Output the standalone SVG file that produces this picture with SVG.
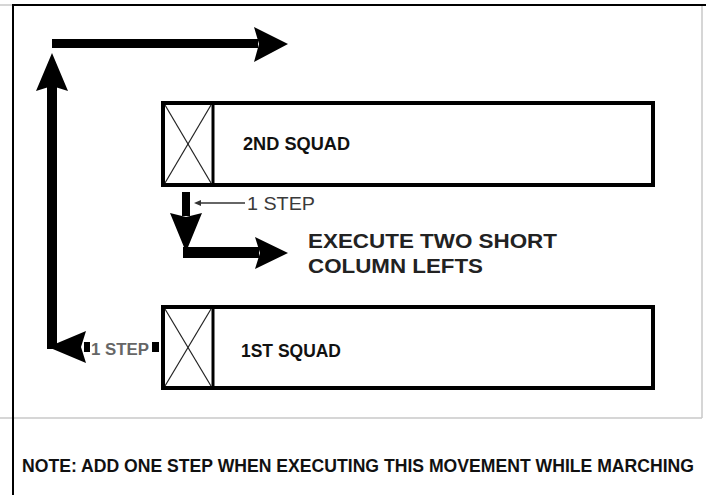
<svg xmlns="http://www.w3.org/2000/svg" width="706" height="495" viewBox="0 0 706 495">
<style>
.box{fill:#fff;stroke:#000;stroke-width:4}
.cell{fill:none;stroke:#000;stroke-width:3}
.x{stroke:#222;stroke-width:1.2}
.lbl{font-family:"Liberation Sans",Arial,sans-serif;font-weight:bold;font-size:19px;fill:#111}
.note{font-family:"Liberation Sans",Arial,sans-serif;font-weight:bold;font-size:17.5px;fill:#111}
.big{font-family:"Liberation Sans",Arial,sans-serif;font-weight:bold;font-size:21px;fill:#222}
.step{font-family:"Liberation Sans",Arial,sans-serif;font-size:18px;fill:#3a3a3a}
.step2{font-family:"Liberation Sans",Arial,sans-serif;font-weight:bold;font-size:16px;fill:#666}
.grey{stroke:#c8c8c8;stroke-width:1.5;fill:none}
</style>
<rect width="706" height="495" fill="#fff"/>
<g id="frame">
<line class="grey" x1="0" y1="5" x2="13" y2="5"/>
<line class="grey" x1="702" y1="6" x2="702" y2="418"/>
<line class="grey" x1="0" y1="418" x2="702" y2="418"/>
<line x1="13" y1="4" x2="13" y2="495" stroke="#000" stroke-width="2"/>
<line x1="13" y1="5" x2="706" y2="5" stroke="#000" stroke-width="2"/>
</g>
<g id="squad2">
<rect class="box" x="163" y="103" width="490" height="82"/>
<line class="cell" x1="213" y1="103" x2="213" y2="185"/>
<line class="x" x1="165" y1="105" x2="211" y2="183"/>
<line class="x" x1="211" y1="105" x2="165" y2="183"/>
<text class="lbl" x="243" y="150" textLength="107" lengthAdjust="spacingAndGlyphs">2ND SQUAD</text>
</g>
<g id="squad1">
<rect class="box" x="163" y="307" width="490" height="81"/>
<line class="cell" x1="213" y1="307" x2="213" y2="388"/>
<line class="x" x1="165" y1="309" x2="211" y2="386"/>
<line class="x" x1="211" y1="309" x2="165" y2="386"/>
<text class="lbl" x="241" y="357" textLength="100" lengthAdjust="spacingAndGlyphs">1ST SQUAD</text>
</g>
<g id="connectors">
<rect x="47" y="86" width="10" height="262" fill="#000"/>
<polygon points="52,53 68,91 52,86 36,91" fill="#000"/>
<rect x="52" y="39" width="206" height="9" fill="#000"/>
<polygon points="288,44 254,62 259,44 254,27" fill="#000"/>
<polygon points="48,347 86,331 81,347 86,363" fill="#000"/>
<rect x="47" y="339" width="10" height="10" fill="#000"/>
<rect x="84" y="342" width="6" height="10" fill="#000"/>
<rect x="152" y="342" width="7" height="10" fill="#000"/>
<rect x="182" y="192" width="8" height="24" fill="#000"/>
<polygon points="186,252 170,213 186,217 202,213" fill="#000"/>
<rect x="183" y="247" width="76" height="11" fill="#000"/>
<polygon points="288,253 255,269 260,253 255,237" fill="#000"/>
<line x1="198" y1="203" x2="245" y2="203" stroke="#333" stroke-width="1.3"/>
<polygon points="194,203 201,200 201,206" fill="#333"/>
</g>
<g id="labels">
<text class="step" x="247" y="210" textLength="68" lengthAdjust="spacingAndGlyphs">1 STEP</text>
<text class="step2" x="91" y="355" textLength="58" lengthAdjust="spacingAndGlyphs">1 STEP</text>
<text class="big" x="308" y="248" textLength="249" lengthAdjust="spacingAndGlyphs">EXECUTE TWO SHORT</text>
<text class="big" x="308" y="273" textLength="175" lengthAdjust="spacingAndGlyphs">COLUMN LEFTS</text>
<text class="note" x="22" y="472" textLength="672" lengthAdjust="spacingAndGlyphs">NOTE:  ADD ONE STEP WHEN EXECUTING THIS MOVEMENT WHILE MARCHING</text>
</g>
</svg>
